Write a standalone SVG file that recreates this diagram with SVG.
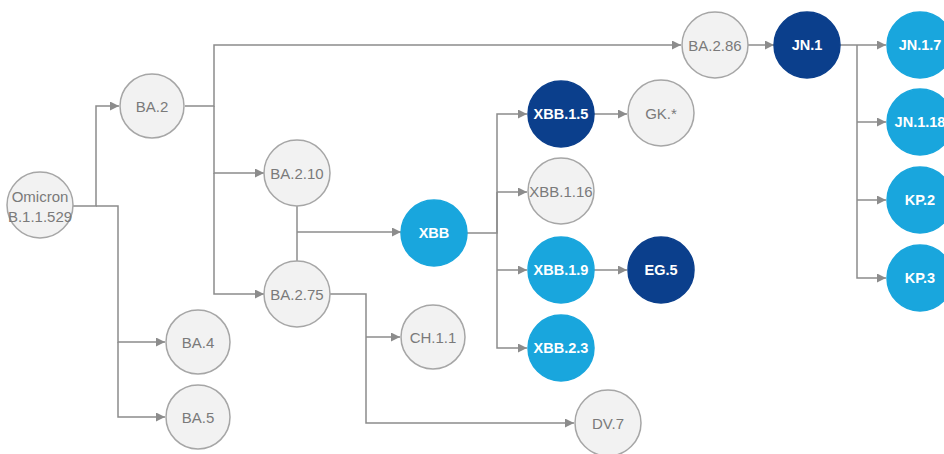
<svg xmlns="http://www.w3.org/2000/svg" width="944" height="454" viewBox="0 0 944 454">
<defs>
<style>
.n circle{stroke-width:1.5}
.g circle{fill:#f2f2f2;stroke:#a6a6a6}
.g text{fill:#7a7a7a}
.d circle{fill:#0b3f8c;stroke:#0b3f8c}
.l circle{fill:#19a6dd;stroke:#19a6dd}
.d text,.l text{fill:#ffffff}
text{font-family:"Liberation Sans",Arial,sans-serif;font-size:15px;text-anchor:middle;dominant-baseline:central}
.d text,.l text{font-weight:bold;font-size:14.5px}
.c path{fill:none;stroke:#8c8c8c;stroke-width:1.5}
</style>
<marker id="a" viewBox="0 0 10 10" refX="10" refY="5" markerWidth="9" markerHeight="9" markerUnits="userSpaceOnUse" orient="auto">
<path d="M0,0 L10,5 L0,10 z" fill="#8c8c8c"/>
</marker>
</defs>
<rect width="944" height="454" fill="#ffffff"/>
<g class="c">
<path d="M73,206 H96 V106 H119" marker-end="url(#a)"/>
<path d="M96,206 H118 V342 H165" marker-end="url(#a)"/>
<path d="M118,342 V417 H165" marker-end="url(#a)"/>
<path d="M185,106 H214 V45 H681" marker-end="url(#a)"/>
<path d="M214,106 V173 H264" marker-end="url(#a)"/>
<path d="M214,173 V294 H264" marker-end="url(#a)"/>
<path d="M297,206 V261"/>
<path d="M297,232 H401" marker-end="url(#a)"/>
<path d="M330,294 H366 V423 H574" marker-end="url(#a)"/>
<path d="M366,337 H400" marker-end="url(#a)"/>
<path d="M467,233 H497 V114 H527" marker-end="url(#a)"/>
<path d="M497,192 H527" marker-end="url(#a)"/>
<path d="M497,192 V348 H527" marker-end="url(#a)"/>
<path d="M497,270 H527" marker-end="url(#a)"/>
<path d="M594,114 H627" marker-end="url(#a)"/>
<path d="M594,270 H627" marker-end="url(#a)"/>
<path d="M748,45 H774" marker-end="url(#a)"/>
<path d="M840,45 H886" marker-end="url(#a)"/>
<path d="M857,45 V278 H886" marker-end="url(#a)"/>
<path d="M857,122 H886" marker-end="url(#a)"/>
<path d="M857,200 H886" marker-end="url(#a)"/>
</g>
<g id="omicron" class="n g"><circle cx="40" cy="205" r="33"/><text x="40" y="196">Omicron</text><text x="40" y="216">B.1.1.529</text></g>
<g id="ba2" class="n g"><circle cx="152" cy="106" r="32"/><text x="152" y="106">BA.2</text></g>
<g id="ba4" class="n g"><circle cx="198" cy="342" r="32"/><text x="198" y="342">BA.4</text></g>
<g id="ba5" class="n g"><circle cx="198" cy="417" r="32"/><text x="198" y="417">BA.5</text></g>
<g id="ba210" class="n g"><circle cx="297" cy="173" r="33"/><text x="297" y="173">BA.2.10</text></g>
<g id="ba275" class="n g"><circle cx="297" cy="294" r="33"/><text x="297" y="294">BA.2.75</text></g>
<g id="xbb" class="n l"><circle cx="434" cy="233" r="33"/><text x="434" y="233">XBB</text></g>
<g id="ch11" class="n g"><circle cx="433" cy="337" r="32"/><text x="433" y="337">CH.1.1</text></g>
<g id="dv7" class="n g"><circle cx="608" cy="423" r="33"/><text x="608" y="423">DV.7</text></g>
<g id="xbb15" class="n d"><circle cx="561" cy="114" r="33"/><text x="561" y="114">XBB.1.5</text></g>
<g id="gk" class="n g"><circle cx="661" cy="113" r="33"/><text x="661" y="113">GK.*</text></g>
<g id="xbb116" class="n g"><circle cx="561" cy="191" r="33"/><text x="561" y="191">XBB.1.16</text></g>
<g id="xbb19" class="n l"><circle cx="561" cy="270" r="33"/><text x="561" y="270">XBB.1.9</text></g>
<g id="eg5" class="n d"><circle cx="661" cy="270" r="33"/><text x="661" y="270">EG.5</text></g>
<g id="xbb23" class="n l"><circle cx="561" cy="348" r="33"/><text x="561" y="348">XBB.2.3</text></g>
<g id="ba286" class="n g"><circle cx="715" cy="45" r="33"/><text x="715" y="45">BA.2.86</text></g>
<g id="jn1" class="n d"><circle cx="807" cy="45" r="33"/><text x="807" y="45">JN.1</text></g>
<g id="jn17" class="n l"><circle cx="920" cy="45" r="33"/><text x="920" y="45">JN.1.7</text></g>
<g id="jn118" class="n l"><circle cx="920" cy="122" r="33"/><text x="920" y="122">JN.1.18</text></g>
<g id="kp2" class="n l"><circle cx="920" cy="200" r="33"/><text x="920" y="200">KP.2</text></g>
<g id="kp3" class="n l"><circle cx="920" cy="278" r="33"/><text x="920" y="278">KP.3</text></g>
</svg>
